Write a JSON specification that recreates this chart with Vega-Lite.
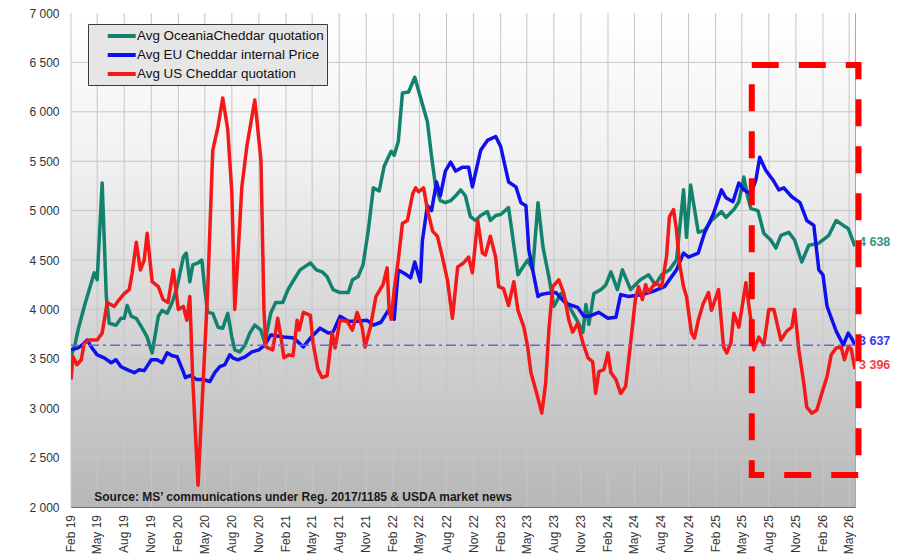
{
"$schema": "https://vega.github.io/schema/vega-lite/v6.json",
"width": 784, "height": 494,
"autosize": {"type": "none"},
"padding": {"left": 71, "top": 13, "right": 58, "bottom": 52},
"background": "#ffffff",
"config": {
  "locale": {"number": {"decimal": ",", "thousands": " ", "grouping": [3], "currency": ["", ""]}},
  "font": "Liberation Sans",
  "view": {"stroke": "#a8a8a8"},
  "axis": {"labelFont": "Liberation Sans", "labelFontSize": 12, "labelColor": "#333333", "grid": false, "domainColor": "#6e6e6e", "ticks": false, "title": null}
},
"datasets": {
  "series": [
{"d":"2019-02-01","s":"O","v":3520},{"d":"2019-02-15","s":"O","v":3650},{"d":"2019-02-25","s":"O","v":3790},{"d":"2019-03-18","s":"O","v":4030},{"d":"2019-04-04","s":"O","v":4200},{"d":"2019-04-21","s":"O","v":4370},{"d":"2019-05-01","s":"O","v":4300},{"d":"2019-05-18","s":"O","v":5280},{"d":"2019-06-01","s":"O","v":4130},{"d":"2019-06-11","s":"O","v":3860},{"d":"2019-07-04","s":"O","v":3840},{"d":"2019-07-21","s":"O","v":3910},{"d":"2019-08-01","s":"O","v":3910},{"d":"2019-08-11","s":"O","v":4040},{"d":"2019-08-25","s":"O","v":3930},{"d":"2019-09-11","s":"O","v":3910},{"d":"2019-10-01","s":"O","v":3810},{"d":"2019-10-18","s":"O","v":3720},{"d":"2019-11-04","s":"O","v":3560},{"d":"2019-11-25","s":"O","v":3930},{"d":"2019-12-08","s":"O","v":3990},{"d":"2019-12-25","s":"O","v":3960},{"d":"2020-01-11","s":"O","v":4070},{"d":"2020-01-28","s":"O","v":4230},{"d":"2020-02-18","s":"O","v":4530},{"d":"2020-02-28","s":"O","v":4570},{"d":"2020-03-11","s":"O","v":4280},{"d":"2020-03-21","s":"O","v":4450},{"d":"2020-04-08","s":"O","v":4470},{"d":"2020-04-21","s":"O","v":4500},{"d":"2020-05-01","s":"O","v":4200},{"d":"2020-05-11","s":"O","v":3970},{"d":"2020-05-28","s":"O","v":3960},{"d":"2020-06-15","s":"O","v":3820},{"d":"2020-07-01","s":"O","v":3810},{"d":"2020-07-18","s":"O","v":3960},{"d":"2020-08-01","s":"O","v":3720},{"d":"2020-08-11","s":"O","v":3590},{"d":"2020-08-28","s":"O","v":3570},{"d":"2020-09-15","s":"O","v":3640},{"d":"2020-10-01","s":"O","v":3760},{"d":"2020-10-18","s":"O","v":3840},{"d":"2020-11-08","s":"O","v":3790},{"d":"2020-11-21","s":"O","v":3660},{"d":"2020-12-11","s":"O","v":3960},{"d":"2020-12-28","s":"O","v":4070},{"d":"2021-01-21","s":"O","v":4070},{"d":"2021-02-08","s":"O","v":4200},{"d":"2021-02-28","s":"O","v":4300},{"d":"2021-03-21","s":"O","v":4400},{"d":"2021-04-25","s":"O","v":4470},{"d":"2021-05-15","s":"O","v":4400},{"d":"2021-06-04","s":"O","v":4380},{"d":"2021-06-21","s":"O","v":4330},{"d":"2021-07-11","s":"O","v":4200},{"d":"2021-08-04","s":"O","v":4170},{"d":"2021-09-01","s":"O","v":4170},{"d":"2021-09-15","s":"O","v":4300},{"d":"2021-10-04","s":"O","v":4330},{"d":"2021-10-21","s":"O","v":4450},{"d":"2021-11-08","s":"O","v":4800},{"d":"2021-11-25","s":"O","v":5230},{"d":"2021-12-15","s":"O","v":5200},{"d":"2022-01-01","s":"O","v":5450},{"d":"2022-01-15","s":"O","v":5540},{"d":"2022-01-25","s":"O","v":5600},{"d":"2022-02-04","s":"O","v":5560},{"d":"2022-02-18","s":"O","v":5700},{"d":"2022-03-04","s":"O","v":6190},{"d":"2022-03-25","s":"O","v":6200},{"d":"2022-04-15","s":"O","v":6350},{"d":"2022-05-04","s":"O","v":6150},{"d":"2022-05-28","s":"O","v":5900},{"d":"2022-06-11","s":"O","v":5550},{"d":"2022-06-25","s":"O","v":5240},{"d":"2022-07-11","s":"O","v":5100},{"d":"2022-07-28","s":"O","v":5080},{"d":"2022-08-15","s":"O","v":5100},{"d":"2022-09-01","s":"O","v":5150},{"d":"2022-09-18","s":"O","v":5210},{"d":"2022-10-04","s":"O","v":5150},{"d":"2022-10-21","s":"O","v":4940},{"d":"2022-11-08","s":"O","v":4900},{"d":"2022-11-25","s":"O","v":4950},{"d":"2022-12-18","s":"O","v":4990},{"d":"2022-12-28","s":"O","v":4900},{"d":"2023-01-15","s":"O","v":4950},{"d":"2023-02-01","s":"O","v":4960},{"d":"2023-02-28","s":"O","v":5030},{"d":"2023-04-01","s":"O","v":4350},{"d":"2023-04-18","s":"O","v":4430},{"d":"2023-05-04","s":"O","v":4500},{"d":"2023-05-21","s":"O","v":4400},{"d":"2023-06-08","s":"O","v":5080},{"d":"2023-06-25","s":"O","v":4630},{"d":"2023-07-15","s":"O","v":4330},{"d":"2023-08-01","s":"O","v":4030},{"d":"2023-08-25","s":"O","v":4160},{"d":"2023-09-18","s":"O","v":4050},{"d":"2023-10-15","s":"O","v":3910},{"d":"2023-11-08","s":"O","v":3770},{"d":"2023-11-18","s":"O","v":4050},{"d":"2023-11-28","s":"O","v":3850},{"d":"2023-12-15","s":"O","v":4160},{"d":"2024-01-08","s":"O","v":4200},{"d":"2024-01-25","s":"O","v":4250},{"d":"2024-02-11","s":"O","v":4380},{"d":"2024-03-04","s":"O","v":4200},{"d":"2024-03-21","s":"O","v":4400},{"d":"2024-04-18","s":"O","v":4200},{"d":"2024-05-04","s":"O","v":4250},{"d":"2024-05-21","s":"O","v":4300},{"d":"2024-06-18","s":"O","v":4350},{"d":"2024-07-11","s":"O","v":4250},{"d":"2024-08-01","s":"O","v":4350},{"d":"2024-08-28","s":"O","v":4400},{"d":"2024-09-21","s":"O","v":4500},{"d":"2024-10-15","s":"O","v":5210},{"d":"2024-10-25","s":"O","v":4730},{"d":"2024-11-08","s":"O","v":5260},{"d":"2024-12-04","s":"O","v":4780},{"d":"2024-12-25","s":"O","v":4800},{"d":"2025-01-18","s":"O","v":4900},{"d":"2025-02-21","s":"O","v":4990},{"d":"2025-03-08","s":"O","v":4930},{"d":"2025-04-04","s":"O","v":5010},{"d":"2025-04-21","s":"O","v":5090},{"d":"2025-05-08","s":"O","v":5340},{"d":"2025-05-21","s":"O","v":5140},{"d":"2025-06-01","s":"O","v":5020},{"d":"2025-06-25","s":"O","v":5000},{"d":"2025-07-15","s":"O","v":4770},{"d":"2025-08-08","s":"O","v":4700},{"d":"2025-08-25","s":"O","v":4620},{"d":"2025-09-11","s":"O","v":4750},{"d":"2025-10-08","s":"O","v":4780},{"d":"2025-10-28","s":"O","v":4700},{"d":"2025-11-21","s":"O","v":4480},{"d":"2025-12-15","s":"O","v":4650},{"d":"2026-01-18","s":"O","v":4670},{"d":"2026-02-08","s":"O","v":4720},{"d":"2026-02-21","s":"O","v":4750},{"d":"2026-03-18","s":"O","v":4900},{"d":"2026-04-11","s":"O","v":4850},{"d":"2026-04-28","s":"O","v":4820},{"d":"2026-05-21","s":"O","v":4638},
{"d":"2019-02-01","s":"E","v":3590},{"d":"2019-02-25","s":"E","v":3610},{"d":"2019-03-11","s":"E","v":3640},{"d":"2019-03-28","s":"E","v":3690},{"d":"2019-04-11","s":"E","v":3620},{"d":"2019-05-01","s":"E","v":3540},{"d":"2019-05-25","s":"E","v":3510},{"d":"2019-06-18","s":"E","v":3460},{"d":"2019-07-04","s":"E","v":3490},{"d":"2019-07-21","s":"E","v":3420},{"d":"2019-08-11","s":"E","v":3390},{"d":"2019-09-04","s":"E","v":3360},{"d":"2019-09-21","s":"E","v":3390},{"d":"2019-10-08","s":"E","v":3380},{"d":"2019-11-01","s":"E","v":3490},{"d":"2019-11-21","s":"E","v":3490},{"d":"2019-12-08","s":"E","v":3460},{"d":"2019-12-25","s":"E","v":3560},{"d":"2020-01-11","s":"E","v":3530},{"d":"2020-01-28","s":"E","v":3520},{"d":"2020-02-15","s":"E","v":3390},{"d":"2020-02-25","s":"E","v":3310},{"d":"2020-03-11","s":"E","v":3330},{"d":"2020-04-04","s":"E","v":3290},{"d":"2020-04-25","s":"E","v":3290},{"d":"2020-05-18","s":"E","v":3270},{"d":"2020-06-04","s":"E","v":3360},{"d":"2020-06-21","s":"E","v":3420},{"d":"2020-07-08","s":"E","v":3440},{"d":"2020-07-25","s":"E","v":3540},{"d":"2020-08-04","s":"E","v":3510},{"d":"2020-08-21","s":"E","v":3490},{"d":"2020-09-15","s":"E","v":3520},{"d":"2020-10-08","s":"E","v":3570},{"d":"2020-11-01","s":"E","v":3590},{"d":"2020-11-21","s":"E","v":3640},{"d":"2020-12-11","s":"E","v":3740},{"d":"2021-01-25","s":"E","v":3720},{"d":"2021-02-28","s":"E","v":3710},{"d":"2021-04-01","s":"E","v":3620},{"d":"2021-04-25","s":"E","v":3710},{"d":"2021-05-28","s":"E","v":3810},{"d":"2021-06-25","s":"E","v":3760},{"d":"2021-07-11","s":"E","v":3770},{"d":"2021-08-04","s":"E","v":3930},{"d":"2021-09-01","s":"E","v":3880},{"d":"2021-10-01","s":"E","v":3880},{"d":"2021-11-04","s":"E","v":3890},{"d":"2021-11-25","s":"E","v":3840},{"d":"2021-12-21","s":"E","v":3870},{"d":"2022-01-15","s":"E","v":3990},{"d":"2022-02-04","s":"E","v":3900},{"d":"2022-02-18","s":"E","v":4400},{"d":"2022-03-18","s":"E","v":4350},{"d":"2022-04-01","s":"E","v":4320},{"d":"2022-04-15","s":"E","v":4480},{"d":"2022-05-04","s":"E","v":4280},{"d":"2022-05-11","s":"E","v":4700},{"d":"2022-05-28","s":"E","v":5050},{"d":"2022-06-11","s":"E","v":5000},{"d":"2022-06-28","s":"E","v":5290},{"d":"2022-07-11","s":"E","v":5150},{"d":"2022-07-28","s":"E","v":5400},{"d":"2022-08-15","s":"E","v":5490},{"d":"2022-09-01","s":"E","v":5400},{"d":"2022-09-25","s":"E","v":5440},{"d":"2022-10-15","s":"E","v":5440},{"d":"2022-10-28","s":"E","v":5240},{"d":"2022-11-25","s":"E","v":5610},{"d":"2022-12-18","s":"E","v":5710},{"d":"2023-01-15","s":"E","v":5750},{"d":"2023-02-01","s":"E","v":5650},{"d":"2023-02-28","s":"E","v":5290},{"d":"2023-03-25","s":"E","v":5240},{"d":"2023-04-11","s":"E","v":5080},{"d":"2023-04-28","s":"E","v":5050},{"d":"2023-05-08","s":"E","v":4600},{"d":"2023-05-21","s":"E","v":4400},{"d":"2023-06-08","s":"E","v":4130},{"d":"2023-06-18","s":"E","v":4150},{"d":"2023-07-04","s":"E","v":4160},{"d":"2023-08-08","s":"E","v":4170},{"d":"2023-09-11","s":"E","v":4060},{"d":"2023-10-21","s":"E","v":4020},{"d":"2023-11-11","s":"E","v":3930},{"d":"2023-11-28","s":"E","v":3930},{"d":"2024-01-01","s":"E","v":3970},{"d":"2024-02-01","s":"E","v":3910},{"d":"2024-02-28","s":"E","v":3920},{"d":"2024-03-15","s":"E","v":4150},{"d":"2024-04-11","s":"E","v":4130},{"d":"2024-05-28","s":"E","v":4150},{"d":"2024-07-01","s":"E","v":4180},{"d":"2024-08-11","s":"E","v":4230},{"d":"2024-09-21","s":"E","v":4400},{"d":"2024-10-15","s":"E","v":4570},{"d":"2024-11-01","s":"E","v":4530},{"d":"2024-12-04","s":"E","v":4570},{"d":"2024-12-25","s":"E","v":4770},{"d":"2025-01-25","s":"E","v":4970},{"d":"2025-02-21","s":"E","v":5210},{"d":"2025-03-08","s":"E","v":5130},{"d":"2025-04-01","s":"E","v":5090},{"d":"2025-04-21","s":"E","v":5280},{"d":"2025-05-08","s":"E","v":5210},{"d":"2025-06-01","s":"E","v":5170},{"d":"2025-06-18","s":"E","v":5310},{"d":"2025-07-01","s":"E","v":5540},{"d":"2025-07-21","s":"E","v":5410},{"d":"2025-08-15","s":"E","v":5310},{"d":"2025-09-04","s":"E","v":5210},{"d":"2025-09-21","s":"E","v":5230},{"d":"2025-10-18","s":"E","v":5140},{"d":"2025-11-15","s":"E","v":5080},{"d":"2025-12-08","s":"E","v":4900},{"d":"2026-01-01","s":"E","v":4850},{"d":"2026-01-18","s":"E","v":4400},{"d":"2026-02-01","s":"E","v":4350},{"d":"2026-02-15","s":"E","v":4030},{"d":"2026-03-08","s":"E","v":3860},{"d":"2026-03-18","s":"E","v":3780},{"d":"2026-04-11","s":"E","v":3640},{"d":"2026-04-28","s":"E","v":3760},{"d":"2026-05-11","s":"E","v":3700},{"d":"2026-05-21","s":"E","v":3637},
{"d":"2019-02-01","s":"U","v":3290},{"d":"2019-02-08","s":"U","v":3520},{"d":"2019-02-21","s":"U","v":3440},{"d":"2019-03-08","s":"U","v":3490},{"d":"2019-03-18","s":"U","v":3660},{"d":"2019-04-04","s":"U","v":3690},{"d":"2019-05-01","s":"U","v":3690},{"d":"2019-05-18","s":"U","v":3760},{"d":"2019-06-04","s":"U","v":4070},{"d":"2019-06-28","s":"U","v":4030},{"d":"2019-07-15","s":"U","v":4100},{"d":"2019-08-01","s":"U","v":4160},{"d":"2019-08-18","s":"U","v":4200},{"d":"2019-08-28","s":"U","v":4370},{"d":"2019-09-11","s":"U","v":4680},{"d":"2019-09-25","s":"U","v":4400},{"d":"2019-10-08","s":"U","v":4500},{"d":"2019-10-18","s":"U","v":4770},{"d":"2019-11-04","s":"U","v":4280},{"d":"2019-11-25","s":"U","v":4230},{"d":"2019-12-11","s":"U","v":4100},{"d":"2019-12-28","s":"U","v":4070},{"d":"2020-01-15","s":"U","v":4400},{"d":"2020-02-01","s":"U","v":4000},{"d":"2020-02-18","s":"U","v":4030},{"d":"2020-03-01","s":"U","v":3890},{"d":"2020-03-11","s":"U","v":4130},{"d":"2020-03-21","s":"U","v":3290},{"d":"2020-04-08","s":"U","v":2220},{"d":"2020-05-11","s":"U","v":4200},{"d":"2020-05-28","s":"U","v":5610},{"d":"2020-06-15","s":"U","v":5850},{"d":"2020-07-01","s":"U","v":6140},{"d":"2020-07-18","s":"U","v":5820},{"d":"2020-08-01","s":"U","v":5180},{"d":"2020-08-11","s":"U","v":4000},{"d":"2020-08-21","s":"U","v":4500},{"d":"2020-09-04","s":"U","v":5240},{"d":"2020-09-21","s":"U","v":5650},{"d":"2020-10-18","s":"U","v":6120},{"d":"2020-11-08","s":"U","v":5510},{"d":"2020-11-18","s":"U","v":4000},{"d":"2020-11-25","s":"U","v":3620},{"d":"2020-12-18","s":"U","v":3590},{"d":"2021-01-04","s":"U","v":3910},{"d":"2021-01-15","s":"U","v":3720},{"d":"2021-01-25","s":"U","v":3510},{"d":"2021-02-11","s":"U","v":3540},{"d":"2021-02-25","s":"U","v":3530},{"d":"2021-03-11","s":"U","v":3890},{"d":"2021-03-18","s":"U","v":3790},{"d":"2021-04-01","s":"U","v":3970},{"d":"2021-04-25","s":"U","v":3940},{"d":"2021-05-04","s":"U","v":3660},{"d":"2021-05-21","s":"U","v":3390},{"d":"2021-06-04","s":"U","v":3310},{"d":"2021-06-21","s":"U","v":3330},{"d":"2021-07-08","s":"U","v":3760},{"d":"2021-07-18","s":"U","v":3610},{"d":"2021-08-04","s":"U","v":3890},{"d":"2021-08-28","s":"U","v":3880},{"d":"2021-09-15","s":"U","v":3790},{"d":"2021-10-01","s":"U","v":3970},{"d":"2021-10-18","s":"U","v":3820},{"d":"2021-10-28","s":"U","v":3620},{"d":"2021-11-15","s":"U","v":3820},{"d":"2021-12-04","s":"U","v":4130},{"d":"2021-12-28","s":"U","v":4250},{"d":"2022-01-11","s":"U","v":4420},{"d":"2022-01-18","s":"U","v":3990},{"d":"2022-01-25","s":"U","v":3900},{"d":"2022-02-04","s":"U","v":4200},{"d":"2022-02-18","s":"U","v":4500},{"d":"2022-03-04","s":"U","v":4870},{"d":"2022-03-21","s":"U","v":4900},{"d":"2022-04-08","s":"U","v":5170},{"d":"2022-04-18","s":"U","v":5230},{"d":"2022-04-28","s":"U","v":5190},{"d":"2022-05-15","s":"U","v":5230},{"d":"2022-05-28","s":"U","v":5010},{"d":"2022-06-15","s":"U","v":4790},{"d":"2022-07-01","s":"U","v":4740},{"d":"2022-07-18","s":"U","v":4530},{"d":"2022-08-04","s":"U","v":4300},{"d":"2022-08-21","s":"U","v":3910},{"d":"2022-09-08","s":"U","v":4430},{"d":"2022-09-28","s":"U","v":4470},{"d":"2022-10-15","s":"U","v":4530},{"d":"2022-10-28","s":"U","v":4370},{"d":"2022-11-15","s":"U","v":4900},{"d":"2022-12-01","s":"U","v":4570},{"d":"2022-12-11","s":"U","v":4550},{"d":"2022-12-28","s":"U","v":4740},{"d":"2023-01-15","s":"U","v":4530},{"d":"2023-01-25","s":"U","v":4230},{"d":"2023-02-11","s":"U","v":4210},{"d":"2023-02-28","s":"U","v":4040},{"d":"2023-03-18","s":"U","v":4280},{"d":"2023-04-01","s":"U","v":3990},{"d":"2023-04-21","s":"U","v":3820},{"d":"2023-05-04","s":"U","v":3620},{"d":"2023-05-15","s":"U","v":3360},{"d":"2023-06-01","s":"U","v":3180},{"d":"2023-06-21","s":"U","v":2950},{"d":"2023-07-04","s":"U","v":3250},{"d":"2023-07-15","s":"U","v":3790},{"d":"2023-07-28","s":"U","v":4230},{"d":"2023-08-18","s":"U","v":4300},{"d":"2023-09-04","s":"U","v":4160},{"d":"2023-09-21","s":"U","v":3890},{"d":"2023-10-04","s":"U","v":3770},{"d":"2023-10-21","s":"U","v":3860},{"d":"2023-11-08","s":"U","v":3660},{"d":"2023-11-25","s":"U","v":3510},{"d":"2023-12-11","s":"U","v":3470},{"d":"2023-12-21","s":"U","v":3150},{"d":"2024-01-01","s":"U","v":3370},{"d":"2024-01-18","s":"U","v":3390},{"d":"2024-02-01","s":"U","v":3560},{"d":"2024-02-11","s":"U","v":3360},{"d":"2024-02-28","s":"U","v":3290},{"d":"2024-03-15","s":"U","v":3150},{"d":"2024-04-01","s":"U","v":3220},{"d":"2024-04-18","s":"U","v":3660},{"d":"2024-05-04","s":"U","v":4100},{"d":"2024-05-15","s":"U","v":4230},{"d":"2024-05-28","s":"U","v":4100},{"d":"2024-06-08","s":"U","v":4250},{"d":"2024-06-18","s":"U","v":4170},{"d":"2024-07-11","s":"U","v":4270},{"d":"2024-08-01","s":"U","v":4230},{"d":"2024-08-18","s":"U","v":4530},{"d":"2024-08-28","s":"U","v":4940},{"d":"2024-09-11","s":"U","v":5010},{"d":"2024-09-21","s":"U","v":4800},{"d":"2024-10-01","s":"U","v":4470},{"d":"2024-10-15","s":"U","v":4230},{"d":"2024-10-25","s":"U","v":4130},{"d":"2024-11-11","s":"U","v":3760},{"d":"2024-11-21","s":"U","v":3710},{"d":"2024-12-04","s":"U","v":3890},{"d":"2024-12-21","s":"U","v":4060},{"d":"2025-01-08","s":"U","v":4170},{"d":"2025-01-18","s":"U","v":3990},{"d":"2025-02-11","s":"U","v":4200},{"d":"2025-02-28","s":"U","v":3620},{"d":"2025-03-11","s":"U","v":3560},{"d":"2025-03-25","s":"U","v":3660},{"d":"2025-04-04","s":"U","v":3960},{"d":"2025-04-21","s":"U","v":3820},{"d":"2025-05-04","s":"U","v":4060},{"d":"2025-05-15","s":"U","v":4270},{"d":"2025-06-01","s":"U","v":3890},{"d":"2025-06-11","s":"U","v":3590},{"d":"2025-06-28","s":"U","v":3720},{"d":"2025-07-15","s":"U","v":3640},{"d":"2025-08-01","s":"U","v":4000},{"d":"2025-08-18","s":"U","v":4000},{"d":"2025-09-11","s":"U","v":3690},{"d":"2025-10-01","s":"U","v":3780},{"d":"2025-10-18","s":"U","v":3820},{"d":"2025-10-28","s":"U","v":4000},{"d":"2025-11-11","s":"U","v":3590},{"d":"2025-11-28","s":"U","v":3250},{"d":"2025-12-08","s":"U","v":3010},{"d":"2025-12-25","s":"U","v":2950},{"d":"2026-01-11","s":"U","v":2980},{"d":"2026-01-28","s":"U","v":3150},{"d":"2026-02-15","s":"U","v":3320},{"d":"2026-03-01","s":"U","v":3540},{"d":"2026-03-18","s":"U","v":3610},{"d":"2026-04-04","s":"U","v":3620},{"d":"2026-04-15","s":"U","v":3490},{"d":"2026-04-28","s":"U","v":3620},{"d":"2026-05-08","s":"U","v":3600},{"d":"2026-05-21","s":"U","v":3396}
  ],
  "ends": [{"d":"2026-05-21","s":"O","v":4638},{"d":"2026-05-21","s":"E","v":3637},{"d":"2026-05-21","s":"U","v":3396}],
  "ref": [{"v":3637}],
  "bg": [{"a":"2019-02-01","b":"2026-05-21","lo":2000,"hi":7000}],
  "xlab": [{"d":"2019-02-01","l":"Feb 19"},{"d":"2019-05-01","l":"May 19"},{"d":"2019-08-01","l":"Aug 19"},{"d":"2019-11-01","l":"Nov 19"},{"d":"2020-02-01","l":"Feb 20"},{"d":"2020-05-01","l":"May 20"},{"d":"2020-08-01","l":"Aug 20"},{"d":"2020-11-01","l":"Nov 20"},{"d":"2021-02-01","l":"Feb 21"},{"d":"2021-05-01","l":"May 21"},{"d":"2021-08-01","l":"Aug 21"},{"d":"2021-11-01","l":"Nov 21"},{"d":"2022-02-01","l":"Feb 22"},{"d":"2022-05-01","l":"May 22"},{"d":"2022-08-01","l":"Aug 22"},{"d":"2022-11-01","l":"Nov 22"},{"d":"2023-02-01","l":"Feb 23"},{"d":"2023-05-01","l":"May 23"},{"d":"2023-08-01","l":"Aug 23"},{"d":"2023-11-01","l":"Nov 23"},{"d":"2024-02-01","l":"Feb 24"},{"d":"2024-05-01","l":"May 24"},{"d":"2024-08-01","l":"Aug 24"},{"d":"2024-11-01","l":"Nov 24"},{"d":"2025-02-01","l":"Feb 25"},{"d":"2025-05-01","l":"May 25"},{"d":"2025-08-01","l":"Aug 25"},{"d":"2025-11-01","l":"Nov 25"},{"d":"2026-02-01","l":"Feb 26"},{"d":"2026-05-01","l":"May 26"}],
  "ygrid": [{"v":2500},{"v":3000},{"v":3500},{"v":4000},{"v":4500},{"v":5000},{"v":5500},{"v":6000},{"v":6500}],
  "box": [{"a":"2025-06-04","b":"2026-06-02","lo":2325,"hi":6474}],
  "src": [{"d":"2019-04-21","v":2061,"t":"Source: MS’ communications under Reg. 2017/1185 & USDA market news"}]
},
"layer": [
  {
    "data": {"name": "bg"},
    "mark": {"type": "rect", "fill": {"gradient": "linear", "x1": 0, "y1": 0, "x2": 0, "y2": 1, "stops": [{"offset": 0, "color": "#ffffff"}, {"offset": 0.3, "color": "#f1f1f1"}, {"offset": 0.62, "color": "#d6d6d6"}, {"offset": 1, "color": "#b7b7b7"}]}},
    "encoding": {
      "x": {"field": "a", "type": "temporal",
        "scale": {"type": "utc", "domain": [{"year": 2019, "month": 2, "date": 1, "utc": true}, {"year": 2026, "month": 5, "date": 21, "utc": true}]},
        "axis": {"labels": false, "domain": true}},
      "x2": {"field": "b"},
      "y": {"field": "hi", "type": "quantitative",
        "scale": {"domain": [2000, 7000], "nice": false, "zero": false},
        "axis": {"values": [2000, 2500, 3000, 3500, 4000, 4500, 5000, 5500, 6000, 6500, 7000], "format": ",d", "labelPadding": 12}},
      "y2": {"field": "lo"}
    }
  },
  {
    "data": {"name": "xlab"},
    "mark": {"type": "rule", "stroke": "#c6c6c6", "strokeWidth": 1},
    "encoding": {"x": {"field": "d", "type": "temporal", "scale": {"type": "utc"}}}
  },
  {
    "data": {"name": "ygrid"},
    "mark": {"type": "rule", "stroke": "#c6c6c6", "strokeWidth": 1},
    "encoding": {"y": {"field": "v", "type": "quantitative"}}
  },
  {
    "data": {"name": "xlab"},
    "mark": {"type": "text", "angle": 270, "align": "right", "baseline": "middle", "dx": -8, "fontSize": 12, "font": "Liberation Sans", "color": "#333333"},
    "encoding": {
      "x": {"field": "d", "type": "temporal", "scale": {"type": "utc"}},
      "y": {"datum": 2000, "type": "quantitative"},
      "text": {"field": "l", "type": "nominal"}
    }
  },
  {
    "data": {"name": "series"},
    "mark": {"type": "line", "strokeWidth": 3.5, "strokeJoin": "round", "clip": true},
    "encoding": {
      "x": {"field": "d", "type": "temporal", "scale": {"type": "utc"}},
      "y": {"field": "v", "type": "quantitative"},
      "color": {"field": "s", "type": "nominal",
        "scale": {"domain": ["O", "E", "U"], "range": ["#12826f", "#1010ee", "#f41818"]},
        "legend": {"orient": "none", "legendX": 17, "legendY": 11, "title": null,
          "symbolType": "M1.1,0H5.1", "symbolSize": 196, "symbolStrokeWidth": 4, "symbolOpacity": 1,
          "labelOffset": 28, "labelFontSize": 13.4, "labelColor": "#111111", "labelFont": "Liberation Sans", "labelLimit": 300,
          "rowPadding": 2, "padding": 3,
          "fillColor": "#e6e6e6",
          "strokeColor": "#3a3a3a",
          "labelExpr": "datum.label == 'O' ? 'Avg OceaniaCheddar quotation' : datum.label == 'E' ? 'Avg EU Cheddar internal Price' : 'Avg US Cheddar quotation'"}}
    }
  },
  {
    "data": {"name": "ref"},
    "mark": {"type": "rule", "stroke": "#6666e6", "strokeWidth": 1.5, "strokeDash": [10, 4, 3, 4]},
    "encoding": {"y": {"field": "v", "type": "quantitative"}}
  },
  {
    "data": {"name": "ends"},
    "mark": {"type": "text", "align": "left", "baseline": "middle", "dx": 4, "dy": -4, "fontWeight": "bold", "fontSize": 12.5, "font": "Liberation Sans", "opacity": 0.85},
    "encoding": {
      "x": {"field": "d", "type": "temporal", "scale": {"type": "utc"}},
      "y": {"field": "v", "type": "quantitative"},
      "text": {"field": "v", "type": "quantitative", "format": ",d"},
      "color": {"field": "s", "type": "nominal", "legend": null}
    }
  },
  {
    "data": {"name": "box"},
    "mark": {"type": "rect", "filled": false, "stroke": "#ff0000", "strokeWidth": 6, "strokeDash": [27, 20]},
    "encoding": {
      "x": {"field": "a", "type": "temporal", "scale": {"type": "utc"}},
      "x2": {"field": "b"},
      "y": {"field": "hi", "type": "quantitative"},
      "y2": {"field": "lo"}
    }
  },
  {
    "data": {"name": "src"},
    "mark": {"type": "text", "align": "left", "baseline": "alphabetic", "fontWeight": "bold", "fontSize": 12, "font": "Liberation Sans", "color": "#1a1a1a"},
    "encoding": {
      "x": {"field": "d", "type": "temporal", "scale": {"type": "utc"}},
      "y": {"field": "v", "type": "quantitative"},
      "text": {"field": "t", "type": "nominal"}
    }
  }
]
}
